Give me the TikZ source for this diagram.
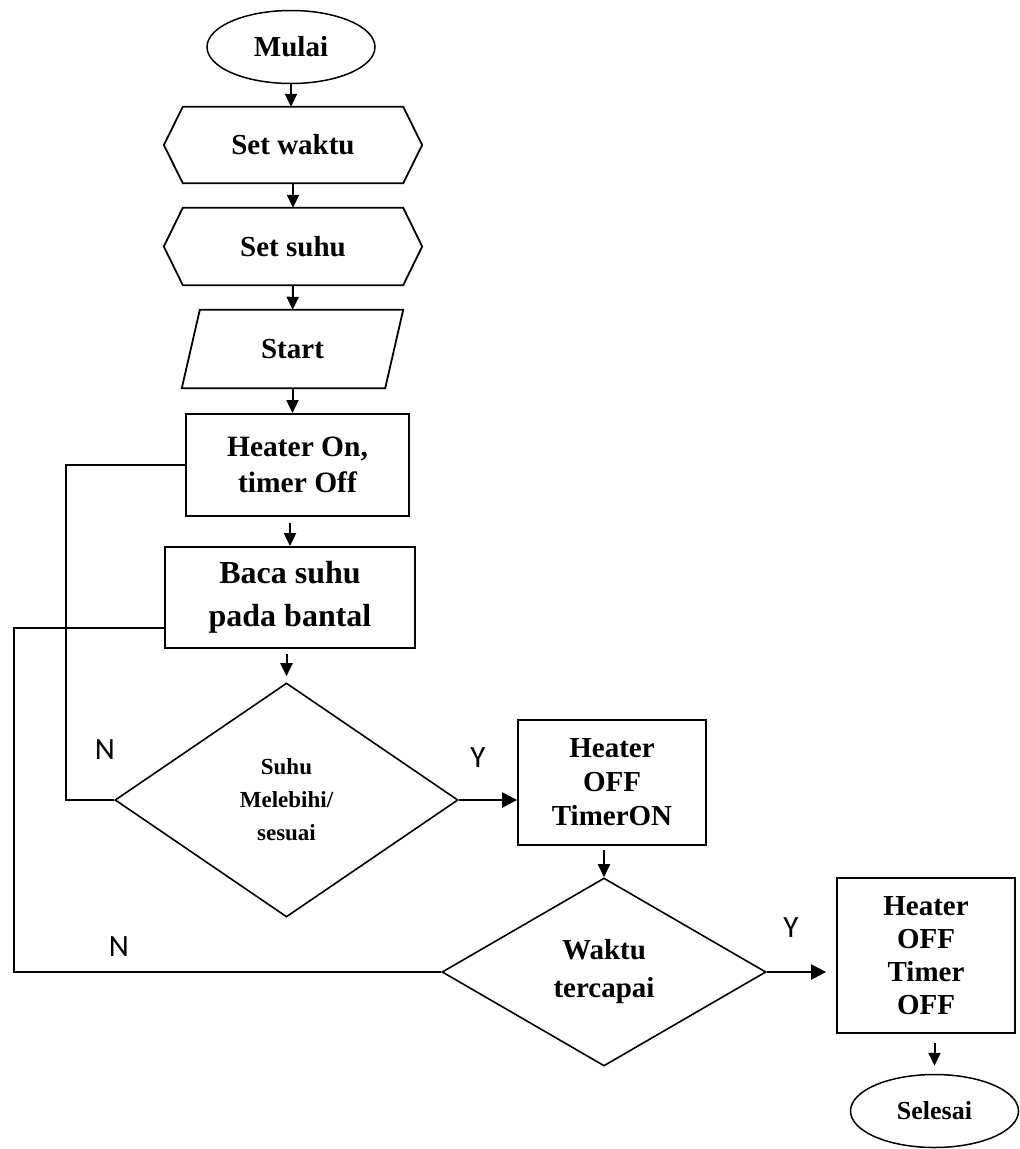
\documentclass[tikz,border=0pt]{standalone}
\usepackage{fontspec}
\setmainfont{Liberation Serif}
\newfontfamily\lblfont{Carlito}
\usetikzlibrary{shapes.geometric,arrows.meta,calc}
\begin{document}
\begin{tikzpicture}[x=1pt,y=-1pt,
  box/.style={draw, line width=1.8pt, rectangle, inner sep=0pt, align=center},
  term/.style={draw, ellipse, line width=1.5pt, inner sep=0pt},
  dec/.style={draw, diamond, line width=1.6pt, inner sep=0pt, align=center},
  plain/.style={inner sep=0pt, align=center},
  arr/.style={line width=2pt, -{Triangle[length=13pt,width=12pt]}},
  arrw/.style={line width=2.4pt, -{Triangle[length=15pt,width=15pt]}},
  loopline/.style={line width=1.8pt},
  outl/.style={line width=1.8pt, line join=miter},
  lbl/.style={font={\lblfont\fontsize{31}{31}\selectfont}, inner sep=0pt},
  f29/.style={font={\bfseries\fontsize{29}{36}\selectfont}}
]
\useasboundingbox (0,0) rectangle (1020,1149);

% nodes
\node[term, minimum width=168pt, minimum height=73pt, f29] (m) at (291,47) {Mulai};
\node[plain, minimum width=220pt, minimum height=76pt, f29] (sw) at (293,145) {Set waktu};
\node[plain, minimum width=220pt, minimum height=77pt, f29] (ss) at (293,246.5) {Set suhu};
\node[plain, minimum width=203pt, minimum height=78pt, f29] (st) at (292.5,349) {Start};
\node[box, minimum width=223pt, minimum height=102pt, font={\bfseries\fontsize{29.5}{36}\selectfont}] (h1) at (297.5,465) {Heater On,\\timer Off};
\node[box, minimum width=250pt, minimum height=101pt, font={\bfseries\fontsize{32}{43}\selectfont}] (bc) at (290,597.5) {Baca suhu\\pada bantal};
\node[dec, minimum width=343pt, minimum height=234pt, font={\bfseries\fontsize{23}{33}\selectfont}] (d1) at (286.5,800) {Suhu\\Melebihi/\\sesuai};
\node[box, minimum width=188pt, minimum height=125pt, font={\bfseries\fontsize{29}{34}\selectfont}] (b2) at (612,782.5) {Heater\\OFF\\TimerON};
\node[dec, minimum width=324pt, minimum height=188pt, font={\bfseries\fontsize{29}{38}\selectfont}] (d2) at (604,972) {Waktu\\tercapai};
\node[box, minimum width=178pt, minimum height=155pt, font={\bfseries\fontsize{29}{33}\selectfont}] (fb) at (926,955.5) {Heater\\OFF\\Timer\\OFF};
\node[term, minimum width=168pt, minimum height=73pt, font={\bfseries\fontsize{26}{30}\selectfont}] (sel) at (934.5,1111) {Selesai};

% hexagons and parallelogram outlines
\draw[outl] (sw.north west) -- (sw.north east) -- ([xshift=19pt]sw.east) -- (sw.south east) -- (sw.south west) -- ([xshift=-19pt]sw.west) -- cycle;
\draw[outl] (ss.north west) -- (ss.north east) -- ([xshift=19pt]ss.east) -- (ss.south east) -- (ss.south west) -- ([xshift=-19pt]ss.west) -- cycle;
\draw[outl] ([xshift=9pt]st.north west) -- ([xshift=9pt]st.north east) -- ([xshift=-9pt]st.south east) -- ([xshift=-9pt]st.south west) -- cycle;

% labels
\node[lbl] (n1) at (105,750) {N};
\node[lbl] (y1) at (478,758) {Y};
\node[lbl] (y2) at (791,928) {Y};
\node[lbl] (n2) at (119,947) {N};

% arrows
\draw[arr] (m.south) -- (m.south |- sw.north);
\draw[arr] (sw.south) -- (ss.north);
\draw[arr] (ss.south) -- (st.north);
\draw[arr] (st.south) -- (st.south |- h1.north);
\draw[arr, shorten <=6pt] (h1.south -| bc.north) -- (bc.north);
\draw[arr, shorten <=5pt, shorten >=6pt] (bc.south -| d1.north) -- (d1.north);
\draw[arrw] (d1.east) -- (d1.east -| b2.west);
\draw[arr, shorten <=4pt] (b2.south -| d2.north) -- (d2.north);
\draw[arrw, shorten >=10pt] (d2.east) -- (d2.east -| fb.west);
\draw[arr, shorten <=9pt, shorten >=8pt] (fb.south -| sel.north) -- (sel.north);

% loops
\coordinate (lx1) at (66,0);
\coordinate (lx2) at (14,0);
\coordinate (bcin) at ([yshift=21pt]bc.south west);
\draw[loopline] (d1.west) -- (d1.west -| lx1) |- (h1.west);
\draw[loopline] (d2.west) -- (d2.west -| lx2) |- (bcin);
\end{tikzpicture}
\end{document}
